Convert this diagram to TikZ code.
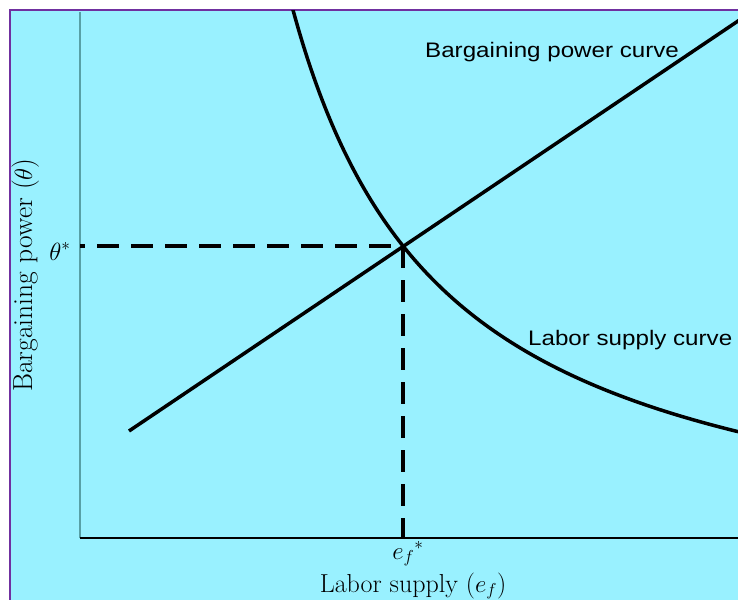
\documentclass[tikz,border=0pt]{standalone}
\usepackage{fontspec}
\newfontfamily\curvefont{Liberation Sans}
\usetikzlibrary{positioning}
\definecolor{panelcyan}{RGB}{153,241,255}
\definecolor{rimpurple}{RGB}{112,48,160}
\definecolor{axisgray}{RGB}{88,160,166}

\begin{document}
\begin{tikzpicture}[x=1pt,y=-1pt]
\tikzset{
  panel/.style={fill=panelcyan,draw=none},
  panelrim/.style={draw=rimpurple,line width=2.4pt},
  yaxis/.style={draw=axisgray,line width=1.6pt},
  xaxis/.style={draw=black,line width=1.2pt},
  curveline/.style={draw=black,line width=3.5pt,line join=round},
  guide/.style={draw=black,line width=3.5pt,dash pattern=on 22pt off 12pt},
  mathlabel/.style={inner sep=0pt,font=\fontsize{26}{31}\selectfont},
  curvelabel/.style={inner sep=0pt,font=\curvefont\fontsize{21}{25}\selectfont}
}
\useasboundingbox (0,0) rectangle (738,599);
\fill[panel] (10,9) rectangle (740,601);
\draw[panelrim] (10,601) -- (10,10) -- (740,10);

% axes
\coordinate (c_origin) at (80,538);
\coordinate (c_ytop) at (80,12);
\coordinate (c_xend) at (738,538);
\draw[yaxis] (c_origin) -- (c_ytop);
\draw[xaxis] (c_origin) -- (c_xend);

% equilibrium and guides
\coordinate (c_eq) at (403,246);
\coordinate (c_theta) at (80,246);
\coordinate (c_ef) at (403,538);
\draw[guide,dash phase=17pt] (c_theta) -- (c_eq);
\draw[guide] (c_eq) -- (c_ef);

% curves
\begin{scope}
\clip (11,11) rectangle (738,599);
\coordinate (c_bpstart) at (129,431);
\coordinate (c_bpend) at (760,6.2);
\draw[curveline] (c_bpstart) -- (c_bpend);
\draw[curveline] plot[domain=288:745,samples=120,smooth]
  (\x,{578.5-881.25/((\x-138)/100)});
\end{scope}

% labels
\node[curvelabel,anchor=base west] (n_bpcurve) at (425,58)
  {\scalebox{1.15}[1]{Bargaining power curve}};
\node[curvelabel,anchor=base west] (n_lscurve) at (528,345)
  {\scalebox{1.15}[1]{Labor supply curve}};
\node[mathlabel,anchor=base] (n_thetastar) at (60,260) {$\theta^*$};
\node[mathlabel,anchor=base] (n_efstar) at (408,559) {$e_f{}^*$};
\node[mathlabel,anchor=base] (n_xlabel) at (413,592) {Labor supply ($e_f$)};
\node[mathlabel,anchor=base,rotate=90,font=\fontsize{27.5}{33}\selectfont]
  (n_ylabel) at (32,275) {Bargaining power ($\theta$)};
\end{tikzpicture}
\end{document}
